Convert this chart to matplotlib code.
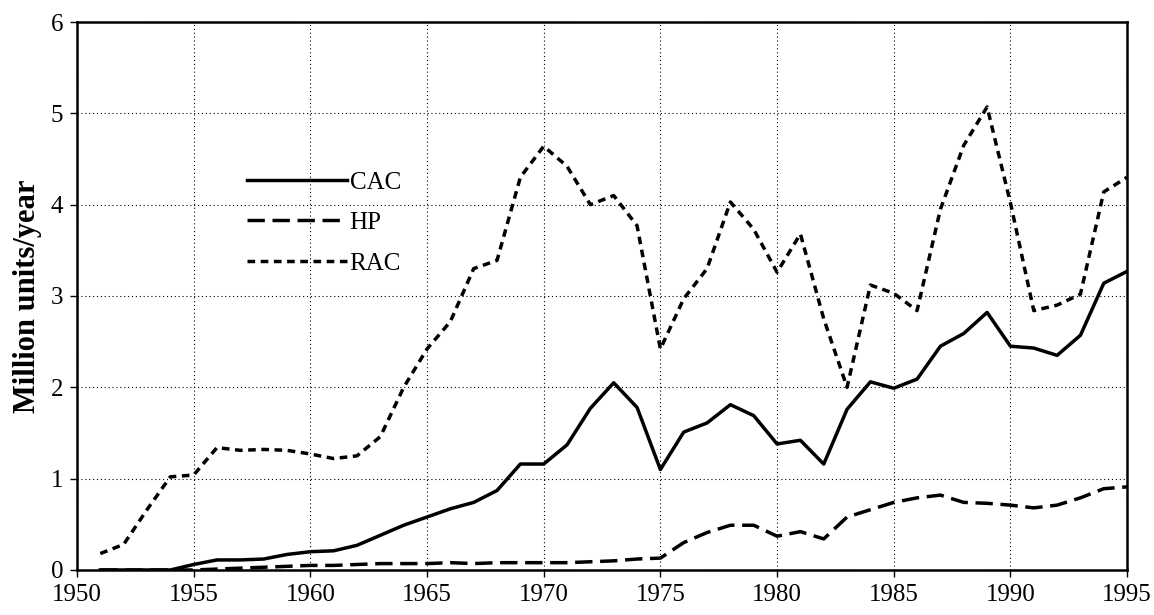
import matplotlib.pyplot as plt

plt.rcParams['font.family'] = ['Liberation Serif', 'DejaVu Serif']

# Data (million units per year)
years = list(range(1951, 1996))

cac = [0.0, 0.0, 0.0, 0.0, 0.06, 0.11, 0.11, 0.12, 0.17, 0.20,
       0.21, 0.27, 0.38, 0.49, 0.58, 0.67, 0.74, 0.87, 1.16, 1.16,
       1.37, 1.77, 2.05, 1.78, 1.10, 1.51, 1.61, 1.81, 1.69, 1.38,
       1.42, 1.16, 1.76, 2.06, 1.99, 2.09, 2.45, 2.59, 2.82, 2.45,
       2.43, 2.35, 2.57, 3.14, 3.27]

hp = [0.0, 0.0, 0.0, 0.0, 0.0, 0.01, 0.02, 0.03, 0.04, 0.05,
      0.05, 0.06, 0.07, 0.07, 0.07, 0.08, 0.07, 0.08, 0.08, 0.08,
      0.08, 0.09, 0.10, 0.12, 0.13, 0.30, 0.41, 0.49, 0.49, 0.37,
      0.42, 0.34, 0.58, 0.66, 0.74, 0.79, 0.82, 0.74, 0.73, 0.71,
      0.68, 0.71, 0.79, 0.89, 0.91]

rac = [0.18, 0.28, 0.66, 1.02, 1.04, 1.34, 1.31, 1.32, 1.31, 1.27,
       1.22, 1.25, 1.46, 2.00, 2.42, 2.72, 3.30, 3.39, 4.30, 4.64,
       4.42, 4.00, 4.10, 3.77, 2.42, 2.97, 3.30, 4.03, 3.73, 3.26,
       3.68, 2.75, 2.00, 3.12, 3.03, 2.84, 3.95, 4.65, 5.07, 4.02,
       2.84, 2.90, 3.02, 4.14, 4.30]

xticks = list(range(1950, 1996, 5))
yticks = [0, 1, 2, 3, 4, 5, 6]

fig = plt.figure(figsize=(11.54, 6.15), dpi=100)
ax = fig.add_axes([0.0667, 0.0732, 0.91, 0.891])

ax.plot(years, cac, color='black', lw=2.5, ls='-', label='CAC')
ax.plot(years, hp, color='black', lw=2.5, ls=(0, (5, 2.2)), label='HP')
ax.plot(years, rac, color='black', lw=2.5, ls=(0, (2.2, 1.6)), label='RAC')

ax.set_xlim(1950, 1995)
ax.set_ylim(0, 6)
ax.set_xticks(xticks)
ax.set_yticks(yticks)
ax.tick_params(labelsize=18, direction='out', length=5, width=1, pad=5)
ax.grid(True, ls=(0, (1, 2.5)), color='black', lw=0.8)
for s in ax.spines.values():
    s.set_linewidth(1.8)

ax.set_ylabel('Million units/year', fontsize=22, fontweight='bold', labelpad=6)

# legend without frame, text right after the line sample
leg = ax.legend(loc='upper left', bbox_to_anchor=(0.162, 0.728), frameon=False,
                fontsize=18, handlelength=4.0, handletextpad=0.1,
                labelspacing=0.72, borderaxespad=0, borderpad=0)

fig.savefig('out.png', dpi=100)
